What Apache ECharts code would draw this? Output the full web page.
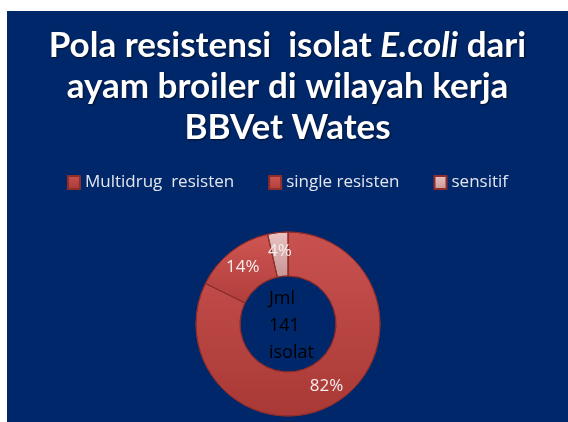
<!DOCTYPE html>
<html>
<head>
<meta charset="utf-8">
<script src="https://cdn.jsdelivr.net/npm/echarts@6/dist/echarts.min.js"></script>
<style>
    body { margin: 0; background: #fff; }
    #chart { position: absolute; left: 7px; top: 11px; width: 561px; height: 411px; }
</style>
</head>
<body>
<div id="chart"></div>
<script>
    // data
    var categories = ['Multidrug  resisten', 'single resisten', 'sensitif'];
    var isolat = [116, 20, 5];
    var sliceColors = [['#c9524f', '#a93936'], ['#cf5653', '#b03e3b'], ['#e9c3c2', '#c79594']];
    var centerText = ['Jml', '141', 'isolat'];

    var myChart = echarts.init(document.getElementById('chart'));

    var pieData = categories.map(function (name, i) {
        return {
            name: name,
            value: isolat[i],
            itemStyle: {
                color: new echarts.graphic.LinearGradient(0, 0, 0, 1, [
                    { offset: 0, color: sliceColors[i][0] },
                    { offset: 1, color: sliceColors[i][1] }
                ])
            }
        };
    });

    var titleFont = { fontFamily: 'Lato', fontWeight: 'bold', fontSize: 35, color: '#fff', lineHeight: 41,
        textShadowColor: 'rgba(0,0,0,0.6)', textShadowBlur: 2, textShadowOffsetX: 1, textShadowOffsetY: 1 };

    var option = {
        backgroundColor: '#00276a',
        title: [{
            left: 'center',
            top: 9,
            text: '{b|Pola resistensi  isolat }{i|E.coli}{b| dari}\n{b|ayam broiler di wilayah kerja}\n{b|BBVet Wates}',
            textStyle: {
                rich: {
                    b: titleFont,
                    i: Object.assign({}, titleFont, { fontStyle: 'italic' })
                }
            }
        }, {
            // keterangan di tengah donat
            left: 257,
            top: 269,
            text: centerText.join('\n'),
            textStyle: { fontFamily: 'Open Sans', fontWeight: 'normal', fontSize: 18, color: '#000', lineHeight: 27 }
        }],
        legend: {
            top: 158,
            left: 'center',
            icon: 'rect',
            itemWidth: 12,
            itemHeight: 13,
            itemGap: 34,
            textStyle: { fontFamily: 'Open Sans', fontSize: 17, color: '#e4e6ee' },
            data: categories
        },
        series: [{
            type: 'pie',
            center: [281, 313],
            radius: [48, 92],
            startAngle: 90,
            percentPrecision: 0,
            label: {
                show: true,
                position: 'inside',
                formatter: '{d}%',
                fontFamily: 'Open Sans',
                fontSize: 17,
                color: '#f4eeee'
            },
            labelLine: { show: false },
            itemStyle: { borderColor: '#8e2d2a', borderWidth: 1 },
            emphasis: { disabled: true },
            data: pieData
        }]
    };
    myChart.setOption(option);
</script>
</body>
</html>
